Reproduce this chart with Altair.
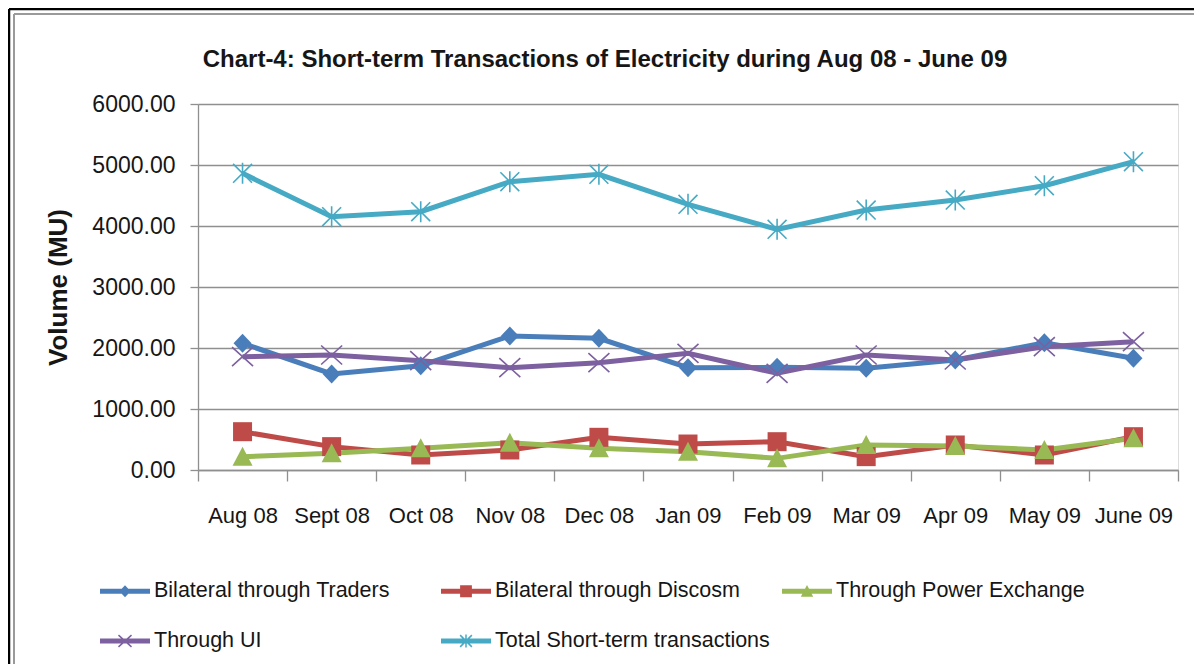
import math
import altair as alt
import pandas as pd

# ---------------- data ----------------
months = ["Aug 08", "Sept 08", "Oct 08", "Nov 08", "Dec 08", "Jan 09",
          "Feb 09", "Mar 09", "Apr 09", "May 09", "June 09"]
series_names = ["Bilateral through Traders", "Bilateral through Discosm",
                "Through Power Exchange", "Through UI",
                "Total Short-term transactions"]
traders = [2077, 1574, 1710, 2197, 2158, 1677, 1683, 1667, 1803, 2087, 1831]
discoms = [628, 383, 246, 328, 536, 426, 464, 219, 410, 246, 546]
power_exchange = [219, 273, 355, 448, 355, 300, 191, 410, 393, 328, 519]
through_ui = [1858, 1885, 1792, 1678, 1760, 1913, 1585, 1885, 1803, 2022, 2104]
total = [4863, 4153, 4235, 4727, 4847, 4355, 3945, 4262, 4426, 4661, 5054]
y_ticks = [0, 1000, 2000, 3000, 4000, 5000, 6000]
title_text = "Chart-4: Short-term Transactions of Electricity during Aug 08 - June 09"
y_title = "Volume (MU)"

ZW = "\u200b"  # legend keys: same visible text, separate domain
series_values = [traders, discoms, power_exchange, through_ui, total]
rows = []
for name, vals in zip(series_names, series_values):
    for i, (m, v) in enumerate(zip(months, vals)):
        rows.append({"month": m, "idx": i, "series": name, "key": name + ZW, "value": v})
df = pd.DataFrame(rows)
key_domain = [n + ZW for n in series_names]

# ---------------- styling ----------------
FONT = "Liberation Sans"
line_colors = ["#4A7EBB", "#BE4B48", "#98B954", "#7D60A0", "#46AAC5"]
GRID = "#8f8f8f"
TXT = "#161616"
LINE_W = 5
PT_SIZE = 400        # unit = 10 px
LEG_SIZE = 2500      # unit = 25 px


def _orient(pts):
    a = 0.0
    for i in range(len(pts)):
        x1, y1 = pts[i]
        x2, y2 = pts[(i + 1) % len(pts)]
        a += x1 * y2 - x2 * y1
    return pts if a > 0 else list(reversed(pts))


def poly(pts):
    pts = _orient(pts)
    return "M" + " L".join(f"{x:.4f},{y:.4f}" for x, y in pts) + " Z"


def bar(x1, y1, x2, y2, w):
    dx, dy = x2 - x1, y2 - y1
    L = math.hypot(dx, dy)
    nx, ny = -dy / L * w, dx / L * w
    return poly([(x1 + nx, y1 + ny), (x2 + nx, y2 + ny),
                 (x2 - nx, y2 - ny), (x1 - nx, y1 - ny)])


def marker_paths(size, k, thin):
    u = math.sqrt(size) / 2.0
    p = lambda v: v * k / u
    w = thin / 2.0 / u
    d, q, t = p(9.5), p(9.5), p(10.0)
    xr, yr, a = p(10.5), p(9.5), p(10.5)
    return [
        poly([(0, -d), (d * 0.95, 0), (0, d), (-d * 0.95, 0)]),
        poly([(-q, -q), (q, -q), (q, q), (-q, q)]),
        poly([(0, -t), (t, t * 0.9), (-t, t * 0.9)]),
        bar(-xr, -yr, xr, yr, w) + " " + bar(-xr, yr, xr, -yr, w),
        bar(-a * 0.9, -a * 0.9, a * 0.9, a * 0.9, w) + " "
        + bar(-a * 0.9, a * 0.9, a * 0.9, -a * 0.9, w) + " " + bar(0, -a, 0, a, w),
    ]


plot_paths = marker_paths(PT_SIZE, 1.0, 1.6)
leg_u = math.sqrt(LEG_SIZE) / 2.0
leg_line = poly([(-1, -2.4 / leg_u), (1, -2.4 / leg_u), (1, 2.4 / leg_u), (-1, 2.4 / leg_u)])
legend_paths = [leg_line + " " + p for p in marker_paths(LEG_SIZE, 0.62, 1.5)]

legend = alt.Legend(
    title=None, orient="none", legendX=-98, legendY=462, direction="horizontal",
    columns=3, gridAlign="all", columnPadding=12, rowPadding=14,
    symbolSize=LEG_SIZE, symbolStrokeWidth=0, symbolOpacity=1,
    labelFont=FONT, labelFontSize=21.5, labelColor=TXT, labelOffset=4,
    labelLimit=400, padding=0,
)

x_enc = alt.X(
    "month:N", sort=months,
    scale=alt.Scale(type="band", domain=months, paddingInner=0, paddingOuter=0),
    axis=alt.Axis(
        title=None, labelAngle=0, tickBand="extent", grid=False,
        tickSize=11, tickColor=GRID, tickWidth=1.3,
        domainColor=GRID, domainWidth=1.3,
        labelFont=FONT, labelFontSize=22, labelColor=TXT, labelPadding=24,
        labelOverlap=False,
    ),
)
y_enc = alt.Y(
    "value:Q",
    scale=alt.Scale(domain=[0, 6000], nice=False, zero=True),
    axis=alt.Axis(
        values=y_ticks, format=".2f", grid=True, gridColor=GRID, gridWidth=1.3,
        domainColor=GRID, domainWidth=1.3, tickColor=GRID, tickSize=8, tickWidth=1.3,
        labelFont=FONT, labelFontSize=23, labelColor=TXT, labelPadding=15,
        title=y_title, titleFont=FONT, titleFontSize=26, titleFontWeight="bold",
        titleColor=TXT, titleX=-140, titleY=183, titleAngle=270,
        titleAlign="center", titleBaseline="middle",
    ),
)
series_color = alt.Scale(domain=series_names, range=line_colors)

base = alt.Chart(df)
lines = base.mark_line(strokeWidth=LINE_W).encode(
    x=x_enc, y=y_enc,
    color=alt.Color("series:N", scale=series_color, legend=None),
    order=alt.Order("idx:Q"),
)
points = base.mark_point(filled=True, size=PT_SIZE, opacity=1, strokeWidth=0).encode(
    x=x_enc, y=y_enc,
    color=alt.Color("series:N", scale=series_color, legend=None),
    shape=alt.Shape("series:N", scale=alt.Scale(domain=series_names, range=plot_paths),
                    legend=None),
)
# legend-only layer: draws no marks, its scales carry the line+marker keys
legend_layer = base.transform_filter("false").mark_point(
    filled=True, size=LEG_SIZE, opacity=1, strokeWidth=0
).encode(
    color=alt.Color("key:N", scale=alt.Scale(domain=key_domain, range=line_colors),
                    legend=legend),
    shape=alt.Shape("key:N", scale=alt.Scale(domain=key_domain, range=legend_paths),
                    legend=legend),
)

frame_src = alt.Data(values=[{"f": 0}])
frame_black_left = alt.Chart(frame_src).mark_rule(color="#000000", strokeWidth=2.5).encode(
    x=alt.value(-189), y=alt.value(-95), y2=alt.value(560))
frame_black_top = alt.Chart(frame_src).mark_rule(color="#000000", strokeWidth=2.5).encode(
    x=alt.value(-189), x2=alt.value(996), y=alt.value(-95))
frame_gray_left = alt.Chart(frame_src).mark_rule(color="#9a9a9a", strokeWidth=2).encode(
    x=alt.value(-184), y=alt.value(-90), y2=alt.value(560))
frame_gray_top = alt.Chart(frame_src).mark_rule(color="#9a9a9a", strokeWidth=2).encode(
    x=alt.value(-184), x2=alt.value(996), y=alt.value(-90))

chart = alt.layer(
    frame_black_left, frame_black_top, frame_gray_left, frame_gray_top,
    lines, points, legend_layer
).resolve_scale(color="independent", shape="independent").resolve_legend(
    color="independent", shape="independent"
).properties(
    width=980, height=366,
    padding={"left": 190, "top": 96, "right": 16, "bottom": 194},
    autosize=alt.AutoSizeParams(type="none"),
    title=alt.TitleParams(
        text=title_text, font=FONT, fontSize=24, fontWeight="bold", color=TXT,
        anchor="middle", frame="group", offset=0, dx=-83, dy=64,
    ),
).configure_view(stroke=None).configure(background="white")

chart.save("out.html", embed_options={"renderer": "svg", "actions": False})
